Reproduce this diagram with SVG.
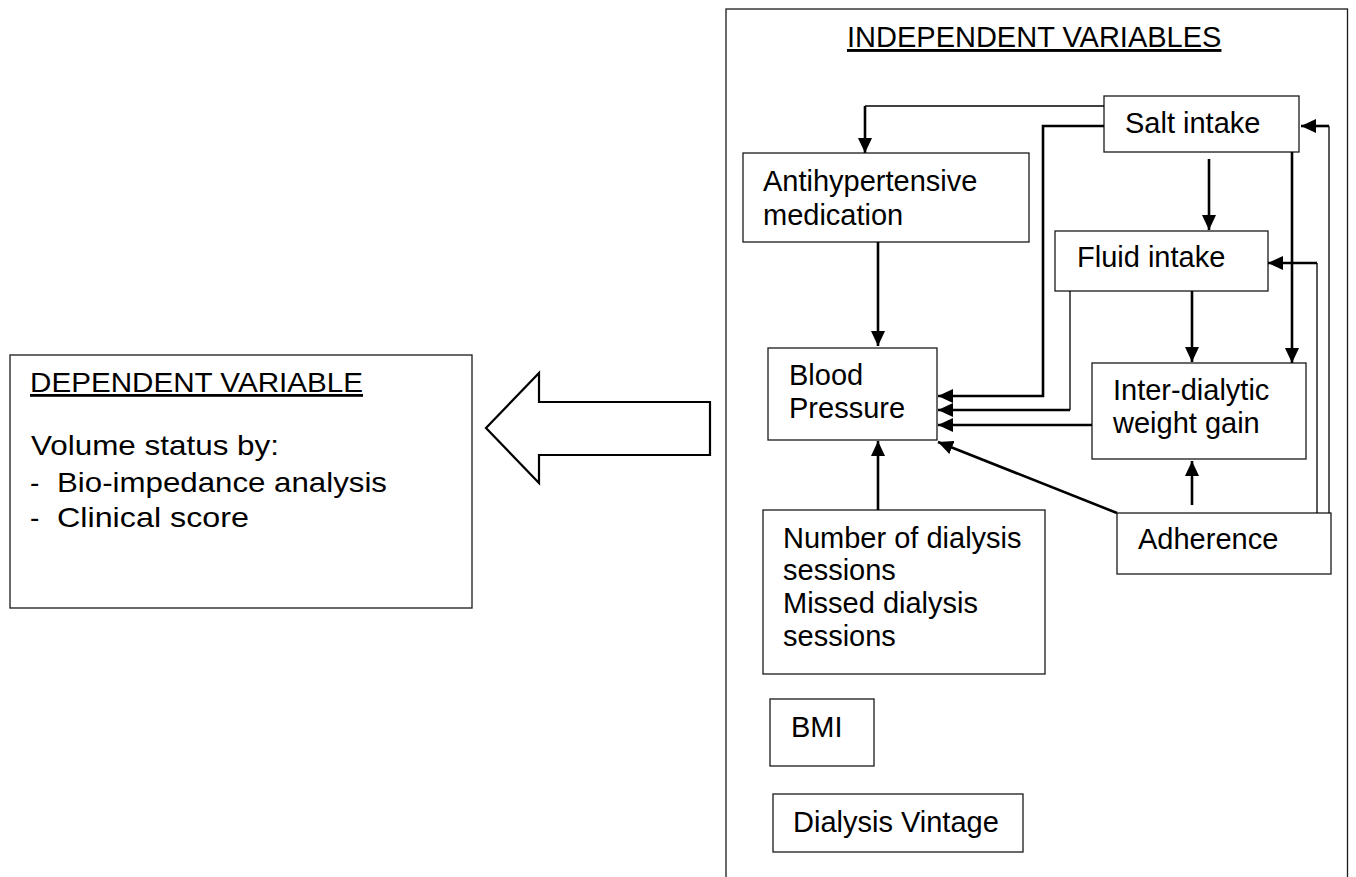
<svg xmlns="http://www.w3.org/2000/svg" width="1356" height="877" viewBox="0 0 1356 877">
<style>
.box{fill:#fff;stroke:#1a1a1a;stroke-width:1.3}
.t{font-family:"Liberation Sans",Arial,sans-serif;font-size:29px;fill:#000}
.tl{font-family:"Liberation Sans",Arial,sans-serif;font-size:28px;fill:#000}
.thin{fill:none;stroke:#000;stroke-width:1.3}
.thick{fill:none;stroke:#000;stroke-width:2.6}
</style>
<defs>
<marker id="ah" markerUnits="userSpaceOnUse" markerWidth="16" markerHeight="14" refX="15" refY="7" orient="auto">
<path d="M0,0 L15,7 L0,14 z" fill="#000"/>
</marker>
</defs>
<rect width="1356" height="877" fill="#fff"/>

<g id="independent-frame">
<rect class="box" x="726" y="9" width="621.5" height="900"/>
<text class="t" x="847" y="47" text-decoration="underline">INDEPENDENT VARIABLES</text>
</g>

<g id="dependent">
<rect class="box" x="10" y="355" width="462" height="253"/>
<text class="tl" x="30" y="392" text-decoration="underline" textLength="333" lengthAdjust="spacingAndGlyphs">DEPENDENT VARIABLE</text>
<text class="tl" x="31" y="455" textLength="248" lengthAdjust="spacingAndGlyphs">Volume status by:</text>
<text class="tl" x="30" y="492">-</text>
<text class="tl" x="57" y="492" textLength="330" lengthAdjust="spacingAndGlyphs">Bio-impedance analysis</text>
<text class="tl" x="30" y="527">-</text>
<text class="tl" x="57" y="527" textLength="192" lengthAdjust="spacingAndGlyphs">Clinical score</text>
</g>

<g id="big-arrow">
<path d="M710,402 L539,402 L539,373 L486,428 L539,483 L539,455 L710,455 Z" fill="#fff" stroke="#000" stroke-width="2.2" stroke-linejoin="miter"/>
</g>

<g id="salt">
<rect class="box" x="1104" y="96" width="195" height="56"/>
<text class="t" x="1125" y="133">Salt intake</text>
</g>
<g id="antihypertensive">
<rect class="box" x="743" y="153" width="286" height="89"/>
<text class="t" x="763" y="191">Antihypertensive</text>
<text class="t" x="763" y="225">medication</text>
</g>
<g id="fluid">
<rect class="box" x="1055" y="231" width="213" height="60"/>
<text class="t" x="1077" y="267">Fluid intake</text>
</g>
<g id="blood-pressure">
<rect class="box" x="768" y="348" width="169" height="92"/>
<text class="t" x="789" y="385">Blood</text>
<text class="t" x="789" y="418">Pressure</text>
</g>
<g id="idwg">
<rect class="box" x="1092" y="363" width="214" height="96"/>
<text class="t" x="1113" y="400">Inter-dialytic</text>
<text class="t" x="1113" y="433">weight gain</text>
</g>
<g id="adherence">
<rect class="box" x="1117" y="513" width="214" height="61"/>
<text class="t" x="1138" y="549">Adherence</text>
</g>
<g id="dialysis-sessions">
<rect class="box" x="763" y="510" width="282" height="164"/>
<text class="t" x="783" y="548">Number of dialysis</text>
<text class="t" x="783" y="580">sessions</text>
<text class="t" x="783" y="613">Missed dialysis</text>
<text class="t" x="783" y="646">sessions</text>
</g>
<g id="bmi">
<rect class="box" x="770" y="699" width="104" height="67"/>
<text class="t" x="791" y="737">BMI</text>
</g>
<g id="vintage">
<rect class="box" x="773" y="794" width="250" height="58"/>
<text class="t" x="793" y="832">Dialysis Vintage</text>
</g>

<g id="connectors">
<path class="thin" d="M1104,106 L865,106"/>
<path class="thick" d="M865,106 L865,153" marker-end="url(#ah)"/>
<path class="thick" d="M1104,126 L1043,126 L1043,396 L938,396" marker-end="url(#ah)"/>
<path class="thick" d="M1209,159 L1209,230" marker-end="url(#ah)"/>
<path class="thick" d="M1292,152 L1292,363" marker-end="url(#ah)"/>
<path class="thick" d="M1192,291 L1192,362" marker-end="url(#ah)"/>
<path class="thin" d="M1070,291 L1070,410"/>
<path class="thick" d="M1070,410 L938,410" marker-end="url(#ah)"/>
<path class="thick" d="M1092,425 L938,425" marker-end="url(#ah)"/>
<path class="thick" d="M1117,513 L938,442" marker-end="url(#ah)"/>
<path class="thick" d="M1192,505 L1192,461" marker-end="url(#ah)"/>
<path class="thin" d="M1317,513 L1317,263"/>
<path class="thick" d="M1317,263 L1268,263" marker-end="url(#ah)"/>
<path class="thin" d="M1329,513 L1329,126"/>
<path class="thick" d="M1329,126 L1301,126" marker-end="url(#ah)"/>
<path class="thick" d="M878,242 L878,346" marker-end="url(#ah)"/>
<path class="thick" d="M878,510 L878,441" marker-end="url(#ah)"/>
</g>
</svg>
